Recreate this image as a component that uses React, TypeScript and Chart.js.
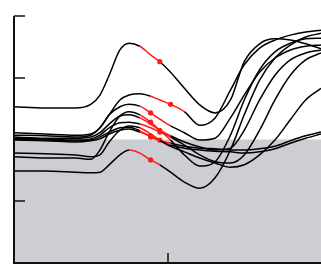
import React, { useEffect, useRef } from "react";
import { Chart, registerables } from "chart.js";

Chart.register(...registerables);

const xs = [0, 2, 4, 5, 5.6, 6.2, 6.9, 7.5, 8.2, 8.9, 9.5, 10.2, 11.1, 12.1, 13.1, 14.1, 15, 16, 17, 18, 19, 20];

const line1 = [2.53, 2.51, 2.51, 2.57, 2.72, 3.04, 3.45, 3.56, 3.51, 3.37, 3.26, 3.09, 2.83, 2.56, 2.43, 2.64, 3.26, 3.55, 3.63, 3.61, 3.55, 3.47];
const line2 = [2.11, 2.09, 2.07, 2.09, 2.19, 2.4, 2.64, 2.72, 2.74, 2.7, 2.64, 2.57, 2.45, 2.23, 2.35, 2.8, 3.21, 3.48, 3.61, 3.69, 3.74, 3.77];
const line3 = [2.07, 2.06, 2.04, 2.07, 2.19, 2.4, 2.53, 2.57, 2.54, 2.43, 2.33, 2.22, 2.11, 1.99, 2.02, 2.35, 2.72, 3.09, 3.32, 3.45, 3.51, 3.53];
const line4 = [2.04, 2.02, 2.02, 2.04, 2.11, 2.25, 2.38, 2.4, 2.35, 2.25, 2.15, 2.06, 1.96, 1.88, 1.83, 1.86, 2.15, 2.64, 3.04, 3.29, 3.4, 3.45];
const line5 = [2.02, 2.01, 1.99, 2.01, 2.07, 2.19, 2.27, 2.28, 2.25, 2.19, 2.12, 2.04, 1.91, 1.75, 1.64, 1.62, 1.75, 2.15, 2.64, 3.04, 3.29, 3.4];
const line6 = [2.01, 1.99, 1.98, 1.99, 2.04, 2.12, 2.19, 2.2, 2.14, 2.04, 1.98, 1.89, 1.8, 1.7, 1.62, 1.55, 1.59, 1.75, 1.99, 2.32, 2.64, 2.83];
const line7 = [1.99, 1.98, 1.96, 1.98, 2.01, 2.09, 2.15, 2.17, 2.12, 2.06, 1.99, 1.94, 1.89, 1.86, 1.85, 1.83, 1.83, 1.85, 1.89, 1.98, 2.06, 2.12];
const line8 = [1.78, 1.77, 1.75, 1.72, 1.75, 1.96, 2.15, 2.22, 2.19, 2.09, 1.99, 1.91, 1.86, 1.83, 1.81, 1.8, 1.78, 1.8, 1.85, 1.94, 2.02, 2.09];
const line9 = [1.72, 1.7, 1.7, 1.68, 1.83, 2.12, 2.38, 2.45, 2.4, 2.28, 2.15, 1.99, 1.75, 1.57, 1.64, 2.07, 2.64, 3.13, 3.42, 3.56, 3.63, 3.64];
const line10 = [1.49, 1.49, 1.47, 1.46, 1.47, 1.59, 1.75, 1.83, 1.78, 1.67, 1.59, 1.47, 1.31, 1.21, 1.38, 1.83, 2.4, 2.96, 3.32, 3.53, 3.66, 3.72];

const seriesList = [line1, line2, line3, line4, line5, line6, line7, line8, line9, line10];
// index ranges of the highlighted (red) part, and the marked point
const redStart = [8, 9, 8, 8, 8, 8, 8, 8, 8, 7];
const redEnd = [10, 12, 11, 11, 11, 10, 11, 11, 11, 10];
const dotIndex = [10, 11, 9, 10, 10, 9, 9, 10, 9, 9];

const yTicks = [0, 1, 3, 4];
const xTicks = [10];
const shadeBelow = 2;

const RED = "#ff1a1a";
const BLACK = "#000000";

const bgPlugin = {
  id: "shade",
  beforeDatasetsDraw(chart: any) {
    const { ctx, chartArea, scales } = chart;
    const yTop = scales.y.getPixelForValue(shadeBelow);
    ctx.save();
    ctx.fillStyle = "#cdced3";
    ctx.fillRect(chartArea.left, yTop, chartArea.right - chartArea.left, chartArea.bottom - yTop);
    ctx.restore();
  },
  afterDatasetsDraw(chart: any) {
    const { ctx, chartArea, scales } = chart;
    ctx.save();
    ctx.strokeStyle = "#111";
    ctx.lineWidth = 2;
    ctx.beginPath();
    ctx.moveTo(chartArea.left, chartArea.top);
    ctx.lineTo(chartArea.left, chartArea.bottom);
    ctx.lineTo(chartArea.right, chartArea.bottom);
    ctx.stroke();
    ctx.lineWidth = 1.5;
    ctx.beginPath();
    for (const t of yTicks) {
      const y = Math.round(scales.y.getPixelForValue(t));
      ctx.moveTo(chartArea.left, y);
      ctx.lineTo(chartArea.left + 11, y);
    }
    for (const t of xTicks) {
      const x = Math.round(scales.x.getPixelForValue(t));
      ctx.moveTo(x, chartArea.bottom);
      ctx.lineTo(x, chartArea.bottom - 10);
    }
    ctx.stroke();
    ctx.restore();
  },
};

export default function App() {
  const ref = useRef<HTMLCanvasElement | null>(null);
  useEffect(() => {
    if (!ref.current) return;
    const datasets = seriesList.map((vals, i) => ({
      data: vals.map((v, k) => ({ x: xs[k], y: v })),
      borderColor: BLACK,
      borderWidth: 1.5,
      pointRadius: vals.map((_, k) => (k === dotIndex[i] ? 2.6 : 0)),
      pointBackgroundColor: RED,
      pointBorderWidth: 0,
      cubicInterpolationMode: "monotone" as const,
      fill: false,
      segment: {
        borderColor: (c: any) =>
          c.p0DataIndex >= redStart[i] && c.p1DataIndex <= redEnd[i] ? RED : BLACK,
      },
    }));
    const chart = new Chart(ref.current, {
      type: "line",
      data: { datasets },
      options: {
        animation: false,
        responsive: false,
        maintainAspectRatio: false,
        layout: { padding: { left: 14, top: 16, right: 0, bottom: 2 } },
        plugins: { legend: { display: false }, tooltip: { enabled: false } },
        scales: {
          x: { type: "linear", min: 0, max: 20, display: false },
          y: { type: "linear", min: 0, max: 4, display: false },
        },
      },
      plugins: [bgPlugin],
    });
    return () => chart.destroy();
  }, []);
  return (
    <div style={{ position: "fixed", left: 0, top: 0, width: 321, height: 265, background: "#fff" }}>
      <canvas ref={ref} width={321} height={265} style={{ display: "block" }} />
    </div>
  );
}
